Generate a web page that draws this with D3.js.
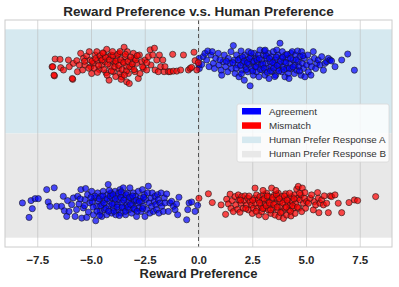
<!DOCTYPE html>
<html>
<head>
<meta charset="utf-8">
<script src="https://cdn.jsdelivr.net/npm/d3@7"></script>
<style>
body { margin: 0; background: #fff; }
svg { display: block; font-family: "Liberation Sans", Arial, sans-serif; }
</style>
</head>
<body>
<svg></svg>
<script>
// [reward preference, vertical jitter] for each pair, grouped by human label and outcome
const aMismatch = [
	[-6.81,-0.02],[-6.70,-0.085],[-5.85,-0.11],
	[-6.67,0.036],[-6.44,0.034],[-6.78,-0.019],[-6.72,-0.080],[-6.41,-0.026],[-6.28,-0.043],[-6.05,0.029],[-6.01,-0.019],
	[-5.87,-0.104],[-5.82,0.005],[-5.66,0.024],[-5.63,-0.055],[-5.48,0.077],[-5.54,-0.007],[-5.35,0.041],[-5.39,-0.043],
	[-5.28,-0.007],[-5.20,0.058],[-5.08,0.089],[-5.04,0.029],[-5.01,-0.019],[-4.97,-0.068],[-4.89,0.005],[-4.81,0.065],
	[-4.73,0.089],[-4.70,0.024],[-4.61,-0.039],[-4.55,0.041],[-4.50,-0.007],[-4.42,0.077],[-4.35,0.017],[-4.30,-0.063],
	[-4.27,0.106],[-4.19,0.053],[-4.16,-0.116],[-4.11,-0.019],[-4.07,0.065],[-3.99,0.024],[-3.96,-0.055],[-3.88,0.005],
	[-3.80,0.041],[-3.73,-0.031],[-3.68,0.077],[-3.65,-0.068],[-3.57,-0.092],[-3.53,0.017],[-3.46,0.121],[-3.42,0.053],
	[-3.37,-0.019],[-3.34,-0.128],[-3.31,0.089],[-3.26,-0.068],[-3.22,-0.140],[-3.18,0.029],[-3.11,-0.019],[-3.03,0.077],
	[-2.98,0.041],[-2.95,-0.055],[-2.87,0.005],[-2.80,-0.104],[-2.75,0.065],[-2.72,-0.068],[-2.64,0.017],[-2.56,-0.031],
	[-2.49,0.029],[-2.41,-0.043],[-2.33,0.053],[-2.25,0.102],[-2.21,-0.007],[-2.13,0.065],[-2.05,0.114],[-2.02,-0.043],
	[-1.94,0.029],[-1.87,-0.055],[-1.82,0.065],[-1.76,-0.019],[-1.66,0.029],[-1.60,-0.055],[-1.56,-0.019],[-1.40,-0.055],
	[-1.32,-0.055],[-1.20,0.070],[-1.17,-0.051],[-1.01,-0.051],[-0.83,-0.043],[-0.70,0.065],[-0.47,-0.043],[-0.39,-0.031],
	[-0.32,-0.024],[-0.21,0.085],[-0.16,0.024],[-0.08,-0.043],[-0.01,0.010],
	[-4.95,0.02],[-4.85,-0.03],[-4.78,0.04],[-4.65,-0.01],[-4.58,0.06],[-4.48,0.03],[-4.40,-0.04],[-4.33,0.05],
	[-4.22,0.0],[-4.15,0.03],[-4.05,-0.05],[-3.98,0.06],[-3.90,-0.02],[-3.84,0.02],[-3.76,0.07],[-3.70,-0.01],
	[-3.62,0.03],[-3.55,-0.04],[-3.48,0.01],[-3.40,0.07],[-3.35,-0.05],[-3.28,0.02],[-3.20,-0.02],[-3.15,0.05],
	[-3.08,0.0],[-3.00,-0.04],[-2.92,0.03],[-4.70,-0.06],[-4.25,-0.08],[-3.85,-0.09],[-3.60,-0.11],[-3.45,-0.08],
	[-4.45,0.08],[-4.0,0.09],[-3.65,0.09],[-5.10,-0.03],[-5.3,0.02],[-2.85,0.06],[-2.6,-0.02],[-2.4,0.01]
];

const aAgreement = [
	[0.03,0.041],[0.02,-0.007],[0.04,-0.032],[0.15,-0.003],[0.22,0.053],[0.30,0.077],[0.38,0.029],[0.43,0.094],
	[0.49,-0.019],[0.58,0.065],[0.64,0.089],[0.69,0.005],[0.74,-0.032],[0.80,0.041],[0.92,0.077],[0.95,-0.007],
	[1.05,-0.044],[1.08,-0.080],[1.15,0.017],[1.20,0.065],[1.26,-0.019],[1.36,-0.056],[1.39,0.041],[1.47,0.005],
	[1.51,0.089],[1.54,-0.032],[1.62,0.133],[1.67,0.029],[1.70,-0.068],[1.77,0.065],[1.82,-0.007],[1.88,-0.092],
	[1.93,0.041],[1.98,0.094],[2.01,-0.044],[2.08,0.005],[2.13,-0.116],[2.16,0.065],[2.19,-0.019],[2.24,0.029],
	[2.29,-0.056],[2.32,0.089],[2.35,-0.003],[2.40,-0.157],[2.44,0.053],[2.47,-0.032],[2.50,0.017],[2.55,-0.080],
	[2.60,0.077],[2.63,-0.019],[2.67,0.041],[2.70,-0.056],[2.75,0.005],[2.78,0.065],[2.81,-0.092],[2.86,0.101],
	[2.91,-0.007],[2.94,0.029],[2.97,-0.044],[3.02,0.065],[3.06,0.094],[3.09,-0.080],[3.12,0.005],[3.17,0.041],
	[3.22,-0.032],[3.25,0.077],[3.28,-0.104],[3.33,0.017],[3.37,-0.019],[3.40,0.053],[3.43,-0.056],[3.48,0.089],
	[3.53,0.005],[3.56,0.029],[3.59,-0.080],[3.64,0.101],[3.68,-0.032],[3.71,0.065],[3.76,-0.003],[3.79,0.150],
	[3.84,0.041],[3.87,-0.056],[3.90,0.089],[3.95,-0.019],[3.99,0.017],[4.02,-0.092],[4.05,0.065],[4.10,-0.032],
	[4.15,0.041],[4.18,-0.068],[4.21,-0.104],[4.26,0.005],[4.30,0.077],[4.33,-0.032],[4.36,0.089],[4.41,0.029],
	[4.46,-0.068],[4.49,-0.007],[4.52,0.065],[4.57,-0.044],[4.61,0.094],[4.64,0.017],[4.67,-0.019],[4.72,0.053],
	[4.77,-0.080],[4.80,0.089],[4.83,0.005],[4.88,-0.032],[4.92,0.041],[4.95,-0.092],[5.03,-0.007],[5.08,0.065],
	[5.11,-0.056],[5.19,0.017],[5.23,-0.080],[5.26,-0.019],[5.34,0.089],[5.39,0.041],[5.45,-0.032],[5.50,0.005],
	[5.57,0.029],[5.65,-0.007],[5.73,0.053],[5.81,-0.044],[5.88,0.005],[5.96,0.017],[6.04,0.041],[6.12,0.029],
	[6.19,0.022],[6.35,-0.019],[6.66,0.029],[6.94,0.072],[7.25,-0.044],
	[1.6,0.01],[1.75,-0.03],[1.85,0.03],[1.95,-0.01],[2.05,0.05],[2.12,0.02],[2.22,-0.04],[2.28,0.01],
	[2.38,0.04],[2.52,-0.05],[2.58,0.02],[2.68,-0.02],[2.72,0.03],[2.83,0.04],[2.88,-0.04],[2.99,0.0],
	[3.05,-0.03],[3.14,0.06],[3.2,-0.06],[3.3,0.04],[3.35,-0.05],[3.45,0.01],[3.5,-0.03],[3.62,0.05],
	[3.66,-0.01],[3.74,-0.05],[3.82,0.02],[3.92,0.05],[3.97,-0.04],[4.07,0.01],[4.12,0.07],[4.23,-0.03],
	[4.28,0.04],[4.4,-0.02],[4.55,0.03],[4.7,-0.05],[4.85,0.06],[2.0,-0.07],[2.45,0.08],[3.1,0.1],
	[3.55,-0.09],[1.3,0.02],[1.0,0.03]
];

const bAgreement = [
	[-8.19,0.0],[-7.88,-0.104],[-7.79,0.017],[-7.73,-0.041],[-7.60,0.031],[-7.45,0.031],[-7.06,0.096],[-6.99,0.007],
	[-6.91,-0.024],[-6.71,0.109],[-6.60,-0.024],[-6.37,-0.024],[-6.29,0.048],[-6.24,-0.056],[-6.13,-0.097],[-6.09,0.017],
	[-6.02,-0.061],[-5.90,-0.012],[-5.82,0.036],[-5.74,-0.097],[-5.67,-0.048],[-5.62,0.048],[-5.56,-0.007],[-5.47,0.096],
	[-5.43,-0.109],[-5.36,-0.036],[-5.28,0.024],[-5.25,0.104],[-5.20,-0.104],[-5.16,0.060],[-5.12,-0.065],[-5.05,0.0],
	[-4.97,0.084],[-4.89,-0.085],[-4.85,0.036],[-4.78,-0.128],[-4.74,-0.024],[-4.69,0.072],[-4.66,0.012],[-4.58,-0.061],
	[-4.54,0.048],[-4.50,-0.097],[-4.47,-0.012],[-4.43,0.084],[-4.38,-0.048],[-4.35,0.024],[-4.27,-0.085],[-4.23,0.060],
	[-4.20,0.133],[-4.16,-0.024],[-4.12,0.012],[-4.07,0.072],[-4.04,-0.073],[-4.01,0.036],[-3.96,-0.036],[-3.91,0.0],
	[-3.88,0.084],[-3.85,-0.085],[-3.81,0.048],[-3.76,-0.012],[-3.73,-0.048],[-3.70,0.024],[-3.65,0.096],[-3.60,-0.073],
	[-3.57,0.0],[-3.54,0.060],[-3.50,0.109],[-3.45,-0.036],[-3.42,0.036],[-3.39,-0.085],[-3.34,-0.012],[-3.30,0.072],
	[-3.26,0.012],[-3.23,-0.048],[-3.19,0.109],[-3.14,0.036],[-3.11,-0.073],[-3.08,-0.012],[-3.03,0.072],[-2.99,0.012],
	[-2.95,-0.048],[-2.92,0.048],[-2.88,-0.097],[-2.83,0.0],[-2.80,0.084],[-2.77,-0.036],[-2.72,0.036],[-2.67,-0.061],
	[-2.64,0.012],[-2.61,0.096],[-2.57,-0.024],[-2.52,0.060],[-2.49,-0.097],[-2.46,0.024],[-2.41,-0.048],[-2.37,0.072],
	[-2.335,0.121],[-2.30,0.0],[-2.26,-0.073],[-2.21,0.036],[-2.18,-0.024],[-2.15,0.072],[-2.10,-0.061],[-2.05,0.012],
	[-2.02,0.048],[-1.99,-0.012],[-1.95,-0.048],[-1.90,0.060],[-1.87,0.024],[-1.84,-0.073],[-1.79,0.0],[-1.74,0.072],
	[-1.71,-0.024],[-1.64,-0.061],[-1.59,0.036],[-1.56,0.0],[-1.48,0.065],[-1.40,-0.061],[-1.33,0.0],[-1.25,0.012],
	[-1.17,-0.024],[-1.09,-0.048],[-1.02,-0.007],[-0.97,-0.085],[-0.91,0.041],[-0.55,-0.121],[-0.50,-0.048],[-0.44,0.0],
	[-0.32,0.007],[-0.16,-0.061],[-0.04,-0.017],
	[-4.95,0.01],[-4.9,-0.03],[-4.82,0.05],[-4.72,-0.06],[-4.62,0.03],[-4.55,-0.02],[-4.45,0.05],[-4.4,0.0],
	[-4.3,-0.04],[-4.25,0.03],[-4.18,-0.06],[-4.1,0.05],[-4.02,-0.01],[-3.98,0.06],[-3.93,-0.06],[-3.86,0.03],
	[-3.79,-0.03],[-3.72,0.07],[-3.68,-0.09],[-3.62,0.04],[-3.55,-0.03],[-3.48,0.02],[-3.4,-0.06],[-3.36,0.06],
	[-3.28,-0.03],[-3.21,0.04],[-3.16,-0.01],[-3.06,0.05],[-3.0,-0.04],[-2.9,0.02],[-2.85,-0.06],[-2.75,0.01],
	[-2.6,-0.04],[-2.55,0.04],[-3.6,0.08],[-4.15,0.09],[-4.6,-0.09],[-5.0,0.04],[-5.3,-0.02],[-5.5,0.03]
];

const bMismatch = [
	[0.02,0.034],[0.46,0.066],[0.64,0.003],[1.05,-0.014],[1.26,-0.082],[1.31,0.027],[1.39,-0.007],[1.47,0.063],
	[1.51,-0.038],[1.57,0.017],[1.62,-0.062],[1.70,0.046],[1.73,-0.014],[1.82,-0.046],[1.85,0.058],[1.88,0.022],
	[1.93,-0.067],[1.98,-0.002],[2.01,0.046],[2.08,-0.038],[2.13,0.017],[2.16,0.051],[2.24,-0.014],[2.29,0.034],
	[2.32,-0.050],[2.40,0.010],[2.47,-0.014],[2.50,-0.075],[2.55,-0.038],[2.60,0.034],[2.63,0.107],[2.66,-0.002],
	[2.70,0.058],[2.75,-0.038],[2.78,0.022],[2.81,-0.087],[2.86,0.046],[2.91,-0.021],[2.94,-0.062],[2.97,0.022],
	[3.02,0.058],[3.06,-0.038],[3.09,-0.002],[3.12,-0.099],[3.17,0.070],[3.22,0.017],[3.25,-0.050],[3.28,0.046],
	[3.33,-0.014],[3.37,-0.075],[3.40,0.107],[3.43,0.022],[3.48,-0.038],[3.53,0.058],[3.56,-0.087],[3.59,-0.002],
	[3.64,0.034],[3.68,-0.050],[3.71,0.070],[3.74,-0.099],[3.79,0.010],[3.84,-0.026],[3.87,0.046],[3.90,-0.062],
	[3.95,-0.111],[3.99,0.022],[4.02,-0.038],[4.05,0.066],[4.10,-0.087],[4.15,-0.002],[4.18,0.034],[4.21,-0.050],
	[4.26,-0.014],[4.30,-0.094],[4.33,0.046],[4.36,0.010],[4.41,-0.038],[4.46,0.058],[4.49,-0.075],[4.52,-0.002],
	[4.57,0.099],[4.61,0.034],[4.64,0.119],[4.67,-0.038],[4.72,0.022],[4.77,0.058],[4.80,-0.062],[4.83,0.107],
	[4.88,-0.002],[4.92,0.034],[4.95,0.075],[4.98,-0.038],[5.03,0.010],[5.11,-0.002],[5.19,0.034],[5.26,0.058],
	[5.34,-0.050],[5.39,0.010],[5.45,-0.014],[5.54,0.075],[5.57,0.034],[5.60,-0.070],[5.65,-0.002],[5.73,0.022],
	[5.81,-0.014],[5.85,0.051],[5.96,-0.002],[6.04,-0.070],[6.12,0.051],[6.19,0.046],[6.35,0.058],[6.50,-0.002],
	[6.66,-0.070],[7.00,0.003],[7.25,0.022],[7.40,0.017],[8.24,0.046],
	[2.52,0.02],[2.68,-0.06],[2.84,0.0],[2.99,-0.04],[3.05,0.03],[3.15,-0.02],[3.2,0.05],[3.3,0.0],
	[3.35,-0.05],[3.45,0.04],[3.5,-0.01],[3.62,0.06],[3.66,-0.03],[3.76,0.03],[3.82,-0.07],[3.92,0.0],
	[4.0,0.05],[4.08,-0.03],[4.12,0.02],[4.24,0.07],[4.28,-0.06],[4.38,-0.02],[4.44,0.03],[4.6,-0.03],
	[4.7,0.07],[2.2,-0.04],[2.35,0.05],[1.95,0.02],[3.0,0.09],[3.6,0.09]
];

const xTicks = [-7.5, -5.0, -2.5, 0.0, 2.5, 5.0, 7.5];
const bands = [
	{name: 'Human Prefer Response A', lo: 0.5, hi: 1.25, color: '#d6e9f0'},
	{name: 'Human Prefer Response B', lo: -0.25, hi: 0.5, color: '#e8e8e8'}
];
const legendItems = [
	{name: 'Agreement', color: '#0000ff'},
	{name: 'Mismatch', color: '#ff0000'},
	{name: bands[0].name, color: bands[0].color},
	{name: bands[1].name, color: bands[1].color}
];
// row of each human label on the y axis
const rowA = 1, rowB = 0;

const width = 399, height = 287;
const plotLeft = 5, plotRight = 392, plotTop = 20, plotBottom = 247;

const svg = d3.select('svg').attr('width', width).attr('height', height);

const x = d3.scaleLinear().domain([-9, 9]).range([plotLeft, plotRight]);
const y = d3.scaleLinear().domain([-0.317, 1.317]).range([plotBottom, plotTop]);

// background bands
svg.selectAll('rect.band')
	.data(bands)
	.join('rect')
		.attr('class', 'band')
		.attr('x', plotLeft)
		.attr('width', plotRight - plotLeft)
		.attr('y', d => y(d.hi))
		.attr('height', d => y(d.lo) - y(d.hi))
		.attr('fill', d => d.color);

// vertical grid
svg.append('g')
	.attr('transform', `translate(0,${plotBottom})`)
	.call(d3.axisBottom(x).tickValues(xTicks).tickSize(-(plotBottom - plotTop)).tickFormat(''))
	.call(g => g.select('.domain').remove())
	.call(g => g.selectAll('line').attr('stroke', '#b8b8b8').attr('stroke-opacity', 0.55));

// zero line
svg.append('line')
	.attr('x1', x(0)).attr('x2', x(0))
	.attr('y1', plotTop).attr('y2', plotBottom)
	.attr('stroke', '#555')
	.attr('stroke-width', 1)
	.attr('stroke-dasharray', '4,3');

function drawPoints(data, row, color) {
	svg.append('g')
		.selectAll('circle')
		.data(data)
		.join('circle')
			.attr('cx', d => x(d[0]))
			.attr('cy', d => y(row + d[1]))
			.attr('r', 3.1)
			.attr('fill', color)
			.attr('fill-opacity', 0.7)
			.attr('stroke', '#1a1a1a')
			.attr('stroke-width', 0.6);
}
drawPoints(aAgreement, rowA, '#0000ff');
drawPoints(aMismatch, rowA, '#ff0000');
drawPoints(bAgreement, rowB, '#0000ff');
drawPoints(bMismatch, rowB, '#ff0000');

// frame
svg.append('rect')
	.attr('x', plotLeft).attr('y', plotTop)
	.attr('width', plotRight - plotLeft).attr('height', plotBottom - plotTop)
	.attr('fill', 'none')
	.attr('stroke', '#cccccc')
	.attr('stroke-width', 1);

// x axis labels
svg.append('g')
	.attr('transform', `translate(0,${plotBottom})`)
	.call(d3.axisBottom(x).tickValues(xTicks).tickSize(0).tickPadding(9)
		.tickFormat(d => d3.format('.1f')(d).replace('-', '\u2212')))
	.call(g => g.select('.domain').remove())
	.call(g => g.selectAll('text')
		.attr('font-family', '"Liberation Sans", Arial, sans-serif')
		.attr('font-size', 11.5)
		.attr('font-weight', 'bold')
		.attr('fill', '#262626'));

svg.append('text')
	.attr('x', (plotLeft + plotRight) / 2)
	.attr('y', 278)
	.attr('text-anchor', 'middle')
	.attr('font-size', 13)
	.attr('font-weight', 'bold')
	.attr('fill', '#262626')
	.text('Reward Preference');

svg.append('text')
	.attr('x', (plotLeft + plotRight) / 2)
	.attr('y', 16)
	.attr('text-anchor', 'middle')
	.attr('font-size', 13.5)
	.attr('font-weight', 'bold')
	.attr('fill', '#262626')
	.text('Reward Preference v.s. Human Preference');

// legend
const legend = svg.append('g').attr('transform', 'translate(237,104)');
legend.append('rect')
	.attr('width', 152).attr('height', 58)
	.attr('rx', 2)
	.attr('fill', '#fff').attr('fill-opacity', 0.8)
	.attr('stroke', '#d8d8d8').attr('stroke-width', 0.8);
const rows = legend.selectAll('g.item')
	.data(legendItems)
	.join('g')
		.attr('class', 'item')
		.attr('transform', (d, i) => `translate(0,${7 + i * 14.3})`);
rows.append('rect')
	.attr('x', 5).attr('y', -3)
	.attr('width', 19).attr('height', 6.5)
	.attr('fill', d => d.color);
rows.append('text')
	.attr('x', 32).attr('y', 3.5)
	.attr('font-size', 9.8)
	.attr('fill', '#333')
	.text(d => d.name);
</script>
</body>
</html>
